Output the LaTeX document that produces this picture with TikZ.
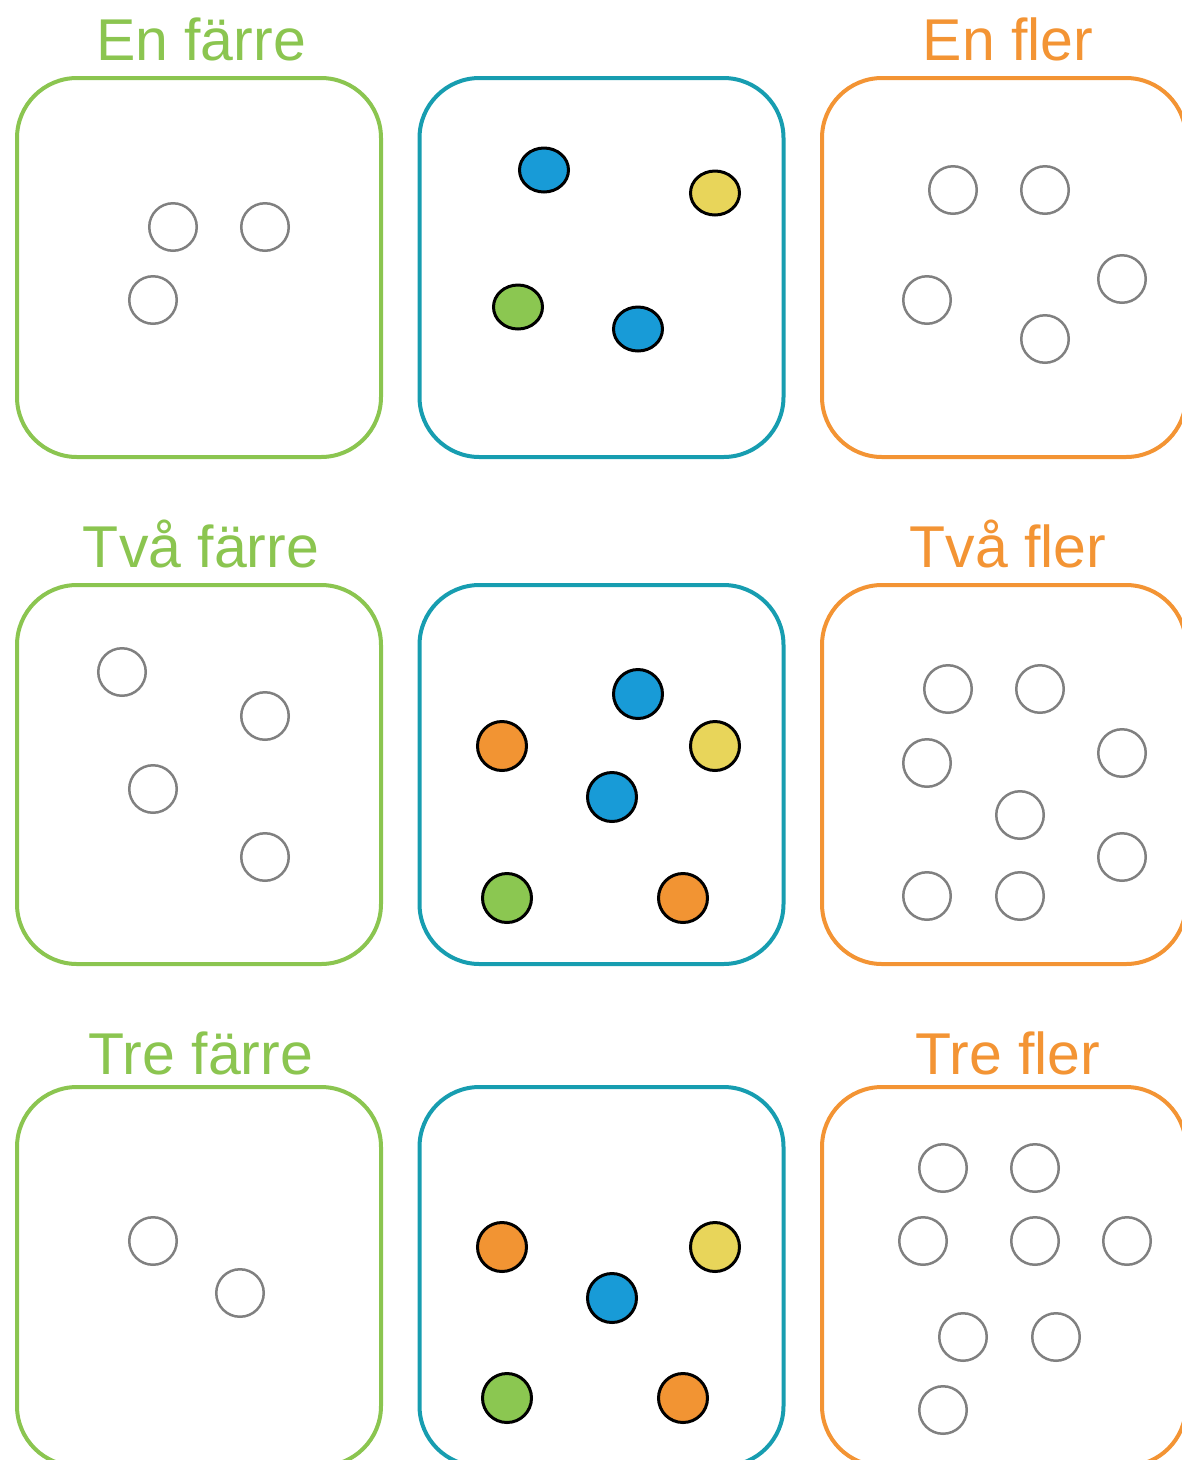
\documentclass[tikz,border=0pt]{standalone}
\usepackage{fontspec}
\setmainfont{Liberation Sans}
\usetikzlibrary{shapes.geometric}
\definecolor{cgreen}{HTML}{8BC550}
\definecolor{cteal}{HTML}{179DB0}
\definecolor{corange}{HTML}{F39434}
\definecolor{dblue}{HTML}{189BD7}
\definecolor{dyellow}{HTML}{E8D55A}
\definecolor{dgreen}{HTML}{8BC751}
\definecolor{dorange}{HTML}{F29433}
\definecolor{cgrey}{HTML}{808080}
\tikzset{
  card/.style={draw=#1, line width=4pt, rounded corners=60pt, minimum width=364pt, minimum height=379pt, inner sep=0pt, outer sep=0pt},
  title/.style={text=#1, font=\fontsize{59}{61}\selectfont, anchor=base, inner sep=0pt},
  empty/.style={draw=cgrey, line width=2.5pt, circle, minimum size=47.5pt, inner sep=0pt},
  dot/.style={draw=black, fill=#1, line width=3pt, circle, minimum size=49pt, inner sep=0pt},
  edot/.style={draw=black, fill=#1, line width=3pt, ellipse, minimum width=49pt, minimum height=44pt, inner sep=0pt}
}
\begin{document}
\begin{tikzpicture}[x=1pt,y=-1pt]
\useasboundingbox (0,0) rectangle (1182,1460);
\clip (0,0) rectangle (1182,1460);
% row 1
\node[title=cgreen] (t1l) at (201,60) {En färre};
\node[title=corange] (t1r) at (1008,60) {En fler};
\node[card=cgreen] (b1l) at (199,267.5) {};
\node[card=cteal] (b1m) at (601.5,267.5) {};
\node[card=corange] (b1r) at (1004,267.5) {};
\node[empty] (e1a) at (173,227) {};
\node[empty] (e1b) at (265,227) {};
\node[empty] (e1c) at (153,300) {};
\node[edot=dblue] (d1a) at (544,170) {};
\node[edot=dyellow] (d1b) at (715,193) {};
\node[edot=dgreen] (d1c) at (518,307) {};
\node[edot=dblue] (d1d) at (638,329) {};
\node[empty] (f1a) at (953,190) {};
\node[empty] (f1b) at (1045,190) {};
\node[empty] (f1c) at (927,300) {};
\node[empty] (f1d) at (1122,279) {};
\node[empty] (f1e) at (1045,339) {};
% row 2
\node[title=cgreen] (t2l) at (201,567) {Två färre};
\node[title=corange] (t2r) at (1008,567) {Två fler};
\node[card=cgreen] (b2l) at (199,774.5) {};
\node[card=cteal] (b2m) at (601.5,774.5) {};
\node[card=corange] (b2r) at (1004,774.5) {};
\node[empty] (e2a) at (122,672) {};
\node[empty] (e2b) at (265,716) {};
\node[empty] (e2c) at (153,789) {};
\node[empty] (e2d) at (265,857) {};
\node[dot=dblue] (d2a) at (638,694) {};
\node[dot=dorange] (d2b) at (502,746) {};
\node[dot=dyellow] (d2c) at (715,746) {};
\node[dot=dblue] (d2d) at (612,797) {};
\node[dot=dgreen] (d2e) at (507,898) {};
\node[dot=dorange] (d2f) at (683,898) {};
\node[empty] (f2a) at (948,689) {};
\node[empty] (f2b) at (1040,689) {};
\node[empty] (f2c) at (927,763) {};
\node[empty] (f2d) at (1122,753) {};
\node[empty] (f2e) at (1020,815) {};
\node[empty] (f2f) at (1122,857) {};
\node[empty] (f2g) at (927,896) {};
\node[empty] (f2h) at (1020,896) {};
% row 3
\node[title=cgreen] (t3l) at (201,1074) {Tre färre};
\node[title=corange] (t3r) at (1008,1074) {Tre fler};
\node[card=cgreen] (b3l) at (199,1276.5) {};
\node[card=cteal] (b3m) at (601.5,1276.5) {};
\node[card=corange] (b3r) at (1004,1276.5) {};
\node[empty] (e3a) at (153,1241) {};
\node[empty] (e3b) at (240,1293) {};
\node[dot=dorange] (d3a) at (502,1247) {};
\node[dot=dyellow] (d3b) at (715,1247) {};
\node[dot=dblue] (d3c) at (612,1298) {};
\node[dot=dgreen] (d3d) at (507,1398) {};
\node[dot=dorange] (d3e) at (683,1398) {};
\node[empty] (f3a) at (943,1168) {};
\node[empty] (f3b) at (1035,1168) {};
\node[empty] (f3c) at (923,1241) {};
\node[empty] (f3d) at (1035,1241) {};
\node[empty] (f3e) at (1127,1241) {};
\node[empty] (f3f) at (963,1337) {};
\node[empty] (f3g) at (1056,1337) {};
\node[empty] (f3h) at (943,1410) {};
\end{tikzpicture}
\end{document}
